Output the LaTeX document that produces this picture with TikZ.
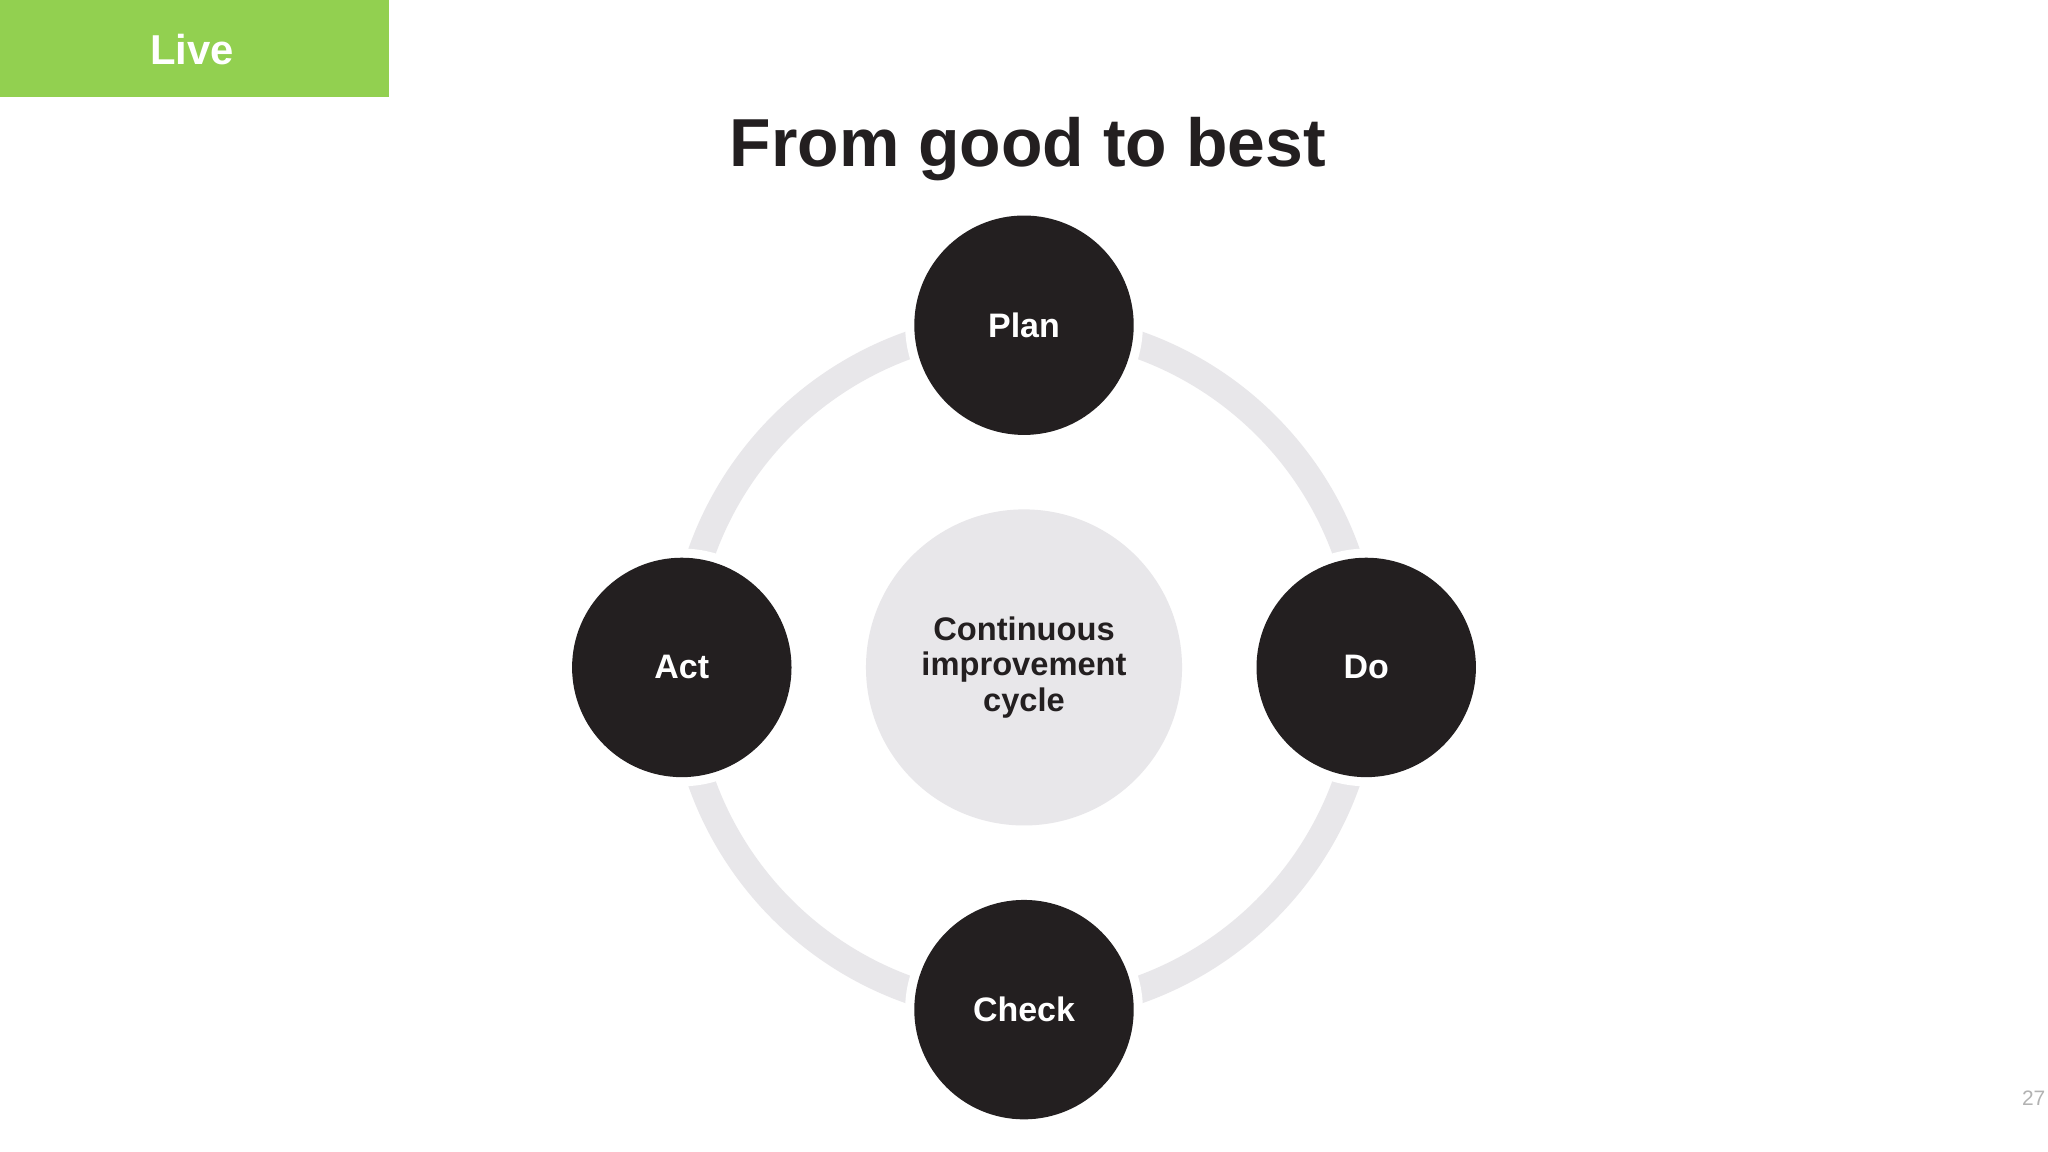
\documentclass[tikz,border=0pt]{standalone}
\usepackage{fontspec}
\setmainfont{Liberation Sans}
\definecolor{lgreen}{HTML}{92D050}
\definecolor{ring}{HTML}{E8E7EA}
\definecolor{dark}{HTML}{231F20}
\begin{document}
\begin{tikzpicture}[x=1pt,y=-1pt,
  stage/.style={circle,fill=dark,minimum size=168pt,inner sep=0pt,text=white,font=\fontsize{26}{30}\selectfont\bfseries},
  gapc/.style={circle,fill=white,minimum size=182pt,inner sep=0pt}]
\useasboundingbox (0,0) rectangle (1568,882);
\fill[white] (0,0) rectangle (1568,882);
\fill[lgreen] (0,0) rectangle (298,74);
\node[text=white,font=\fontsize{32}{36}\selectfont\bfseries] (live) at (147,38) {Live};
\node[text=dark,font=\fontsize{52}{58}\selectfont\bfseries] (title) at (787,114) {From good to best};
\draw[ring,line width=21pt] (784,511) circle[radius=262];
\foreach \p/\n in {{(784,249)}/g1,{(1046,511)}/g2,{(784,773)}/g3,{(522,511)}/g4}
  \node[gapc] (\n) at \p {};
\node[circle,fill=ring,minimum size=242pt,inner sep=0pt,text=dark,align=center,font=\fontsize{25}{27}\selectfont\bfseries] (center) at (784,511) {Continuous\\improvement\\cycle};
\node[stage] (plan) at (784,249) {Plan};
\node[stage] (do) at (1046,511) {Do};
\node[stage] (check) at (784,773) {Check};
\node[stage] (act) at (522,511) {Act};
\node[text=gray!60,font=\fontsize{16}{18}\selectfont] (pg) at (1557,841) {27};
\end{tikzpicture}
\end{document}
